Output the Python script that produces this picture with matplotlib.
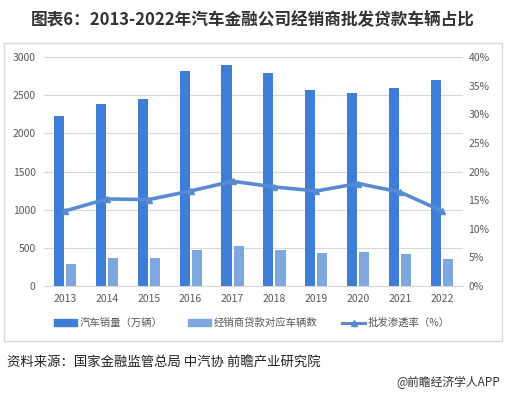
import matplotlib
matplotlib.use("Agg")
import matplotlib.pyplot as plt
from matplotlib.patches import Rectangle
from matplotlib.lines import Line2D
import numpy as np

plt.rcParams['font.family'] = ['Noto Sans CJK SC', 'DejaVu Sans']

years = ["2013", "2014", "2015", "2016", "2017", "2018", "2019", "2020", "2021", "2022"]
car_sales = [2225, 2382, 2456, 2814, 2892, 2788, 2565, 2526, 2592, 2696]
dealer_loan_cars = [288, 366, 366, 475, 523, 471, 432, 445, 419, 353]
wholesale_rate = [13.1, 15.2, 15.1, 16.6, 18.3, 17.3, 16.6, 17.9, 16.4, 13.1]

c_dark = "#3F7ED6"
c_light = "#7EA7E0"
c_line = "#5A8BD2"
grid_c = "#D9D9D9"
txt_c = "#595959"

W, H = 506, 397
fig = plt.figure(figsize=(W / 100, H / 100), dpi=100)

# chart frame
fig.patches.append(Rectangle((4 / W, 1 - 341 / H), 498 / W, 298 / H,
                             transform=fig.transFigure, fill=False,
                             edgecolor=grid_c, linewidth=1))

ax = fig.add_axes([44 / W, 1 - 286 / H, 419 / W, 229 / H])
x = np.arange(len(years))
bw = 0.24
ax.bar(x - 0.145, car_sales, bw, color=c_dark, zorder=3)
ax.bar(x + 0.145, dealer_loan_cars, bw, color=c_light, zorder=3)
ax.set_ylim(0, 3000)
ax.set_yticks(range(0, 3001, 500))
ax.set_xlim(-0.5, len(years) - 0.5)
ax.set_xticks(x)
ax.set_xticklabels(years)
ax.grid(axis='y', color=grid_c, linewidth=0.8, zorder=0)
ax.set_axisbelow(True)
for s in ["top", "right", "left"]:
    ax.spines[s].set_visible(False)
ax.spines["bottom"].set_color(grid_c)
ax.tick_params(axis='both', length=0, labelsize=7.5, colors=txt_c)
ax.tick_params(axis='y', pad=6)
ax.tick_params(axis='x', pad=6)

ax2 = ax.twinx()
ax2.plot(x, wholesale_rate, color=c_line, linewidth=2.6, marker='^',
         markersize=4, zorder=4)
ax2.set_ylim(0, 40)
ax2.set_yticks(range(0, 41, 5))
ax2.set_yticklabels([f"{v}%" for v in range(0, 41, 5)])
for s in ["top", "right", "left", "bottom"]:
    ax2.spines[s].set_visible(False)
ax2.tick_params(axis='y', length=0, labelsize=7.5, colors=txt_c, pad=4)

handles = [Rectangle((0, 0), 1, 1, color=c_dark),
           Rectangle((0, 0), 1, 1, color=c_light),
           Line2D([0], [0], color=c_line, linewidth=2.2, marker='^', markersize=4)]
labels = ["汽车销量（万辆）", "经销商贷款对应车辆数", "批发渗透率（%）"]
fig.legend(handles, labels, loc='center', bbox_to_anchor=(252 / W, 1 - 323 / H),
           ncol=3, frameon=False, fontsize=7.5, handlelength=2.2, handleheight=0.6,
           handletextpad=0.25, columnspacing=2.4, labelcolor=txt_c)

fig.text(253 / W, 1 - 20 / H, "图表6：2013-2022年汽车金融公司经销商批发贷款车辆占比",
         ha='center', va='center', fontsize=12, fontweight='bold', color="#333333")
fig.text(7 / W, 1 - 363 / H, "资料来源：国家金融监管总局 中汽协 前瞻产业研究院",
         ha='left', va='center', fontsize=9.6, color="#222222")
fig.text(500 / W, 1 - 382 / H, "@前瞻经济学人APP",
         ha='right', va='center', fontsize=8.5, color="#333333")

fig.savefig("out.png", dpi=100)
